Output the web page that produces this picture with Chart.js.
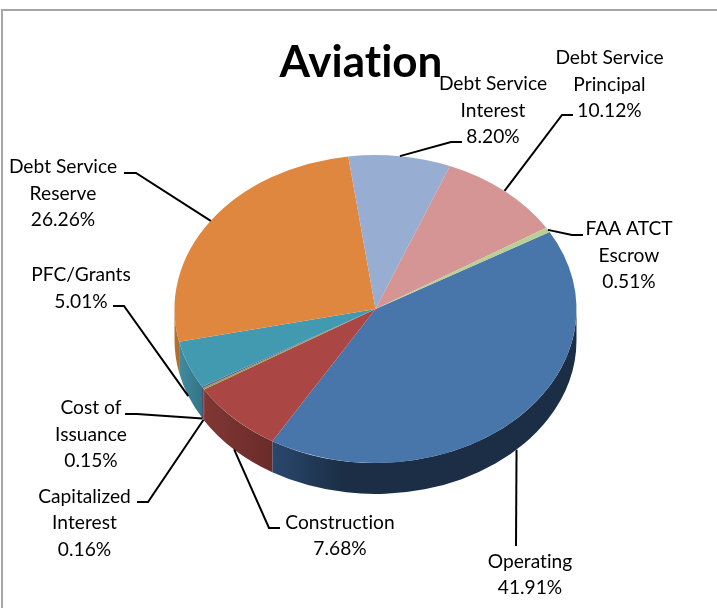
<!DOCTYPE html>
<html>
<head>
<meta charset="utf-8">
<title>Aviation</title>
<script src="https://cdn.jsdelivr.net/npm/chart.js@4"></script>
<style>
    html, body { margin: 0; padding: 0; background: #fff; overflow: hidden; }
    #frame { position: absolute; left: 1px; top: 9px; width: 716px; height: 599px; border-left: 2px solid #a6a6a6; border-top: 2px solid #a6a6a6; box-sizing: border-box; }
    #aviationChart { position: absolute; left: 0; top: 0; }
</style>
</head>
<body>
<div id="frame"></div>
<canvas id="aviationChart" width="717" height="608"></canvas>
<script>
const chartTitle = 'Aviation';
const categories = [
    ['Operating'],
    ['Construction'],
    ['Capitalized', 'Interest'],
    ['Cost of', 'Issuance'],
    ['PFC/Grants'],
    ['Debt Service', 'Reserve'],
    ['Debt Service', 'Interest'],
    ['Debt Service', 'Principal'],
    ['FAA ATCT', 'Escrow'],
];
const shares = [41.91, 7.68, 0.16, 0.15, 5.01, 26.26, 8.20, 10.12, 0.51];
const topColors = ['#4875aa', '#aa4744', '#8aa64f', '#72588f', '#429ab1', '#df863f', '#98add2', '#d59594', '#b9cf96'];
// side wall: lighter colour on the left, darker colour on the right
const sideLight = ['#2a486d', '#803734', '#68803a', '#54406c', '#418c9f', '#b9722f', '#6f829f', '#a06f6e', '#8c9d70'];
const sideDark = ['#1b2e46', '#6a2b29', '#5a6e32', '#473660', '#327485', '#ae6b2e', '#5e6e88', '#8a5f5e', '#7a8a60'];

// text centre + first line y, then the elbow and end of each leader line
const labelBoxes = [
    { x: 530, y: 561.5, elbow: [516, 546], end: [516, 546] },
    { x: 340, y: 522.5, elbow: [269, 528], end: [280, 528] },
    { x: 84.5, y: 496.5, elbow: [148, 502], end: [137, 502] },
    { x: 91, y: 408, elbow: [137, 414], end: [125, 414] },
    { x: 81, y: 275, elbow: [124, 306], end: [113, 306] },
    { x: 63, y: 167, elbow: [136, 173], end: [124, 173] },
    { x: 493, y: 84, elbow: [451, 142], end: [462, 142] },
    { x: 609.5, y: 58, elbow: [562, 115], end: [573, 115] },
    { x: 629, y: 229, elbow: [572, 235], end: [583, 235] },
];

const PIE_X = 375.5;
const PIE_Y = 309;
const RADIUS = 201;
const SQUASH = 154 / 201;
const DEPTH = 31;
const LINE_HEIGHT = 26.5;
const LABEL_FONT = '19.2px Lato, sans-serif';

const pie3d = {
    id: 'pie3d',
    beforeDraw(chart) {
        // tiny spacing stops Lato joining "ti" into a ligature
        chart.ctx.letterSpacing = '0.01px';
    },
    beforeDatasetsDraw(chart) {
        const ctx = chart.ctx;
        const arcs = chart.getDatasetMeta(0).data;

        // side walls, only the part facing the viewer
        arcs.forEach((arc, i) => {
            const a0 = Math.max(arc.startAngle, 0);
            const a1 = Math.min(arc.endAngle, Math.PI);
            if (a1 <= a0) return;
            const x0 = PIE_X + Math.cos(a0) * RADIUS;
            const x1 = PIE_X + Math.cos(a1) * RADIUS;
            const grad = ctx.createLinearGradient(x1, 0, i === 0 ? x1 + 70 : x0, 0);
            grad.addColorStop(0, sideLight[i]);
            grad.addColorStop(1, sideDark[i]);
            ctx.beginPath();
            ctx.ellipse(PIE_X, PIE_Y, RADIUS, RADIUS * SQUASH, 0, a0, a1);
            ctx.ellipse(PIE_X, PIE_Y + DEPTH, RADIUS, RADIUS * SQUASH, 0, a1, a0, true);
            ctx.closePath();
            ctx.fillStyle = grad;
            ctx.fill();
        });

        // the top face is the normal chart.js pie, flattened
        const first = arcs[0];
        ctx.save();
        ctx.translate(PIE_X, PIE_Y);
        ctx.scale(1, SQUASH);
        ctx.translate(-first.x, -first.y);
    },
    afterDatasetsDraw(chart) {
        chart.ctx.restore();
    },
    afterDraw(chart) {
        const ctx = chart.ctx;
        const arcs = chart.getDatasetMeta(0).data;

        ctx.save();
        arcs.forEach((arc, i) => {
            const mid = (arc.startAngle + arc.endAngle) / 2;
            const box = labelBoxes[i];
            const edgeX = PIE_X + Math.cos(mid) * RADIUS;
            let edgeY = PIE_Y + Math.sin(mid) * RADIUS * SQUASH;
            if (Math.sin(mid) > 0) edgeY += DEPTH;

            ctx.beginPath();
            ctx.moveTo(edgeX, edgeY);
            ctx.lineTo(box.elbow[0], box.elbow[1]);
            ctx.lineTo(box.end[0], box.end[1]);
            ctx.strokeStyle = '#000';
            ctx.lineWidth = 2;
            ctx.stroke();

            ctx.fillStyle = '#000';
            ctx.font = LABEL_FONT;
            ctx.textAlign = 'center';
            ctx.textBaseline = 'middle';
            const lines = [...categories[i], shares[i].toFixed(2) + '%'];
            lines.forEach((line, n) => ctx.fillText(line, box.x, box.y + n * LINE_HEIGHT));
        });
        ctx.restore();
    },
};

new Chart(document.getElementById('aviationChart').getContext('2d'), {
    type: 'pie',
    data: {
        labels: categories,
        datasets: [{
            data: shares,
            backgroundColor: topColors,
            borderWidth: 0,
            clip: false,
        }],
    },
    options: {
        responsive: false,
        animation: false,
        rotation: 60,
        radius: RADIUS,
        layout: { padding: { left: 5 } },
        plugins: {
            legend: { display: false },
            tooltip: { enabled: false },
            title: {
                display: true,
                text: chartTitle,
                color: '#000',
                font: { family: 'Lato, sans-serif', size: 44, weight: 'bold', lineHeight: 1.2 },
                padding: { top: 36, bottom: 0 },
            },
        },
    },
    plugins: [pie3d],
});
</script>
</body>
</html>
